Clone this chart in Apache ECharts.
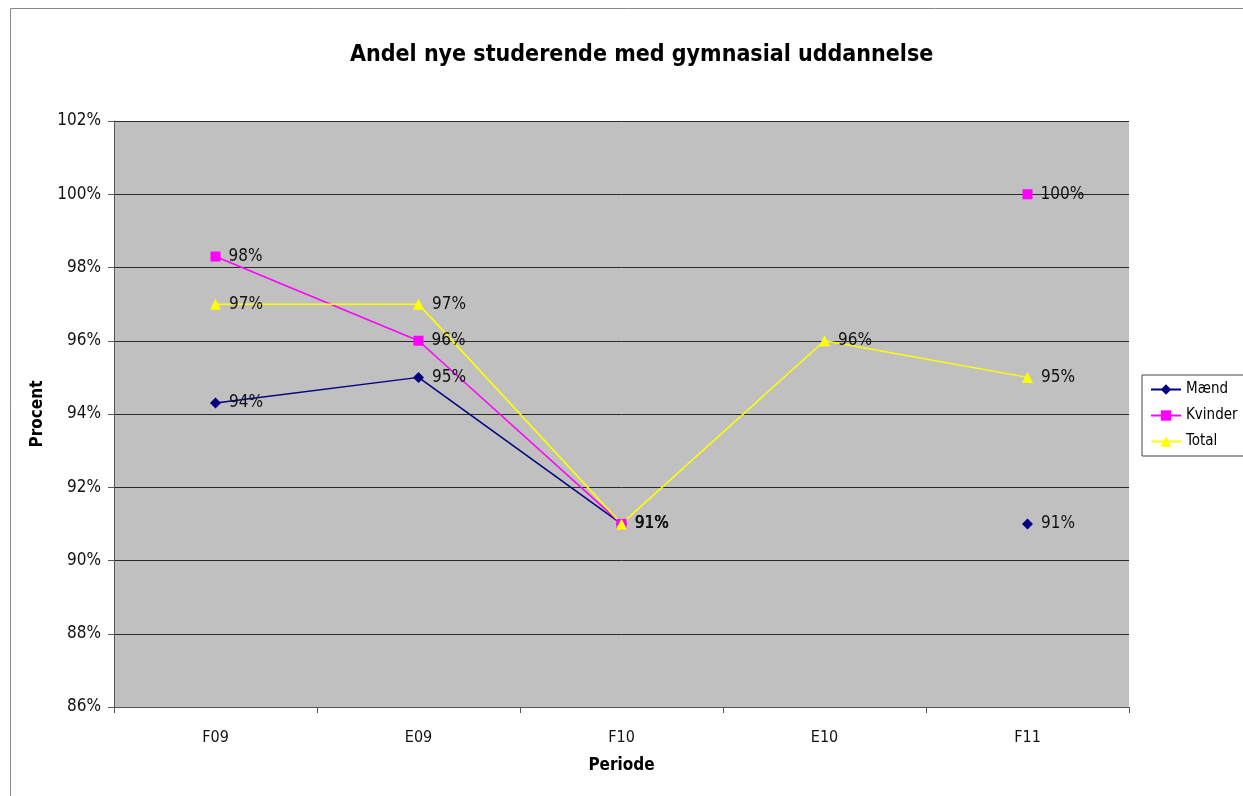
<!DOCTYPE html>
<html>
<head>
<meta charset="utf-8">
<script src="https://cdn.jsdelivr.net/npm/echarts@6/dist/echarts.min.js"></script>
<style>
  html, body { margin: 0; padding: 0; background: #fff; }
  #chart { width: 1243px; height: 796px; }
</style>
</head>
<body>
<div id="chart"></div>
<script>
// periods on the x axis
var periods = ['F09', 'E09', 'F10', 'E10', 'F11'];

// values in percent, null = no data for that period
var maend   = [94.3, 95.0, 91.0, null, 91.0];
var kvinder = [98.3, 96.0, 91.0, null, 100.0];
var total   = [97.0, 97.0, 91.0, 96.0, 95.0];

var yTicks = [86, 88, 90, 92, 94, 96, 98, 100, 102];

var fontFam = '"DejaVu Sans Condensed", "DejaVu Sans", Verdana, sans-serif';

function lineSeries(name, data, color, symbol, size) {
    return {
        name: name, type: 'line', data: data,
        symbol: symbol, symbolSize: size,
        connectNulls: false,
        lineStyle: {color: color, width: 1.5},
        itemStyle: {color: color},
        label: {
            show: true, position: 'right', distance: 8,
            color: '#111', fontFamily: fontFam, fontSize: 17,
            padding: [3, 0, 0, 0],
            formatter: function (p) { return Math.round(p.value) + '%'; }
        },
        emphasis: {disabled: true}
    };
}

var chart = echarts.init(document.getElementById('chart'));

chart.setOption({
    animation: false,
    backgroundColor: '#fff',
    textStyle: {fontFamily: fontFam},
    title: {
        text: 'Andel nye studerende med gymnasial uddannelse',
        left: 345, top: 39,
        textStyle: {fontFamily: fontFam, fontSize: 23, fontWeight: 'bold', color: '#000'}
    },
    graphic: [{
        type: 'rect', silent: true,
        shape: {x: 10.5, y: 8.5, width: 1300, height: 1000},
        style: {fill: 'none', stroke: '#888', lineWidth: 1}
    }],
    legend: {
        orient: 'vertical', left: 1142, top: 375,
        itemGap: 11, itemWidth: 30, itemHeight: 13,
        padding: [7, 10, 7, 8],
        borderColor: '#444', borderWidth: 1,
        backgroundColor: '#fff',
        textStyle: {fontFamily: fontFam, fontSize: 15, color: '#000'},
        data: ['Mænd', 'Kvinder', 'Total']
    },
    grid: {left: 114, right: 114, top: 121, bottom: 89, show: true, backgroundColor: '#c0c0c0', borderWidth: 0},
    xAxis: {
        type: 'category', data: periods,
        name: 'Periode', nameLocation: 'middle', nameGap: 50,
        nameTextStyle: {fontFamily: fontFam, fontSize: 17, fontWeight: 'bold', color: '#000'},
        axisLine: {lineStyle: {color: '#555', width: 1}},
        axisTick: {show: true, length: 6, lineStyle: {color: '#555'}},
        axisLabel: {fontFamily: fontFam, fontSize: 16, color: '#111', margin: 23},
        splitLine: {show: false}
    },
    yAxis: {
        type: 'value', min: 86, max: 102, interval: 2,
        name: 'Procent', nameLocation: 'middle', nameGap: 66,
        nameTextStyle: {fontFamily: fontFam, fontSize: 17, fontWeight: 'bold', color: '#000'},
        axisLine: {show: true, lineStyle: {color: '#555', width: 1}},
        axisTick: {show: true, length: 6, lineStyle: {color: '#555'}},
        axisLabel: {
            fontFamily: fontFam, fontSize: 17, color: '#111', margin: 13,
            padding: [4, 0, 0, 0],
            formatter: function (v) { return yTicks.indexOf(v) >= 0 ? v + '%' : ''; }
        },
        splitLine: {show: true, lineStyle: {color: '#2a2a2a', width: 1}}
    },
    series: [
        lineSeries('Mænd', maend, '#000080', 'diamond', 11),
        lineSeries('Kvinder', kvinder, '#ff00ff', 'rect', 10),
        lineSeries('Total', total, '#ffff00', 'triangle', 11)
    ]
});
</script>
</body>
</html>
